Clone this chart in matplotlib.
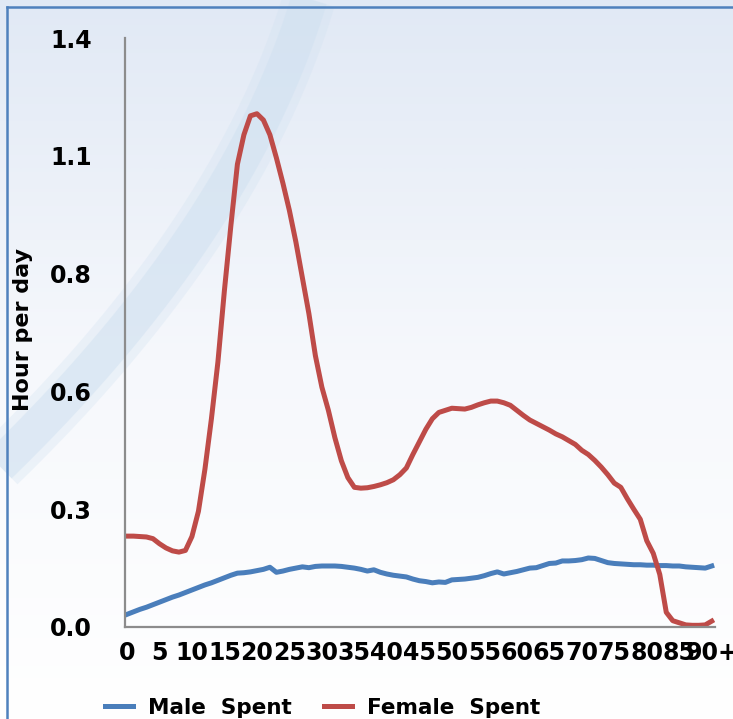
import numpy as np
import matplotlib
matplotlib.use("Agg")
import matplotlib.pyplot as plt
from matplotlib.colors import LinearSegmentedColormap

# ---------------- data ----------------
ages = list(range(0, 91))
tick_ages = list(range(0, 91, 5))
tick_labels = [str(a) for a in range(0, 90, 5)] + ["90+"]

male_spent = [
    0.030, 0.036, 0.042, 0.047, 0.053, 0.059, 0.065, 0.071, 0.076, 0.082,
    0.088, 0.094, 0.100, 0.105, 0.111, 0.117, 0.123, 0.128, 0.129, 0.131,
    0.134, 0.137, 0.142, 0.130, 0.133, 0.137, 0.140, 0.143, 0.141, 0.144,
    0.145, 0.145, 0.145, 0.144, 0.142, 0.140, 0.137, 0.133, 0.136, 0.130,
    0.126, 0.123, 0.121, 0.119, 0.114, 0.110, 0.108, 0.105, 0.107, 0.106,
    0.112, 0.113, 0.114, 0.116, 0.118, 0.122, 0.127, 0.131, 0.126, 0.129,
    0.132, 0.136, 0.140, 0.141, 0.146, 0.151, 0.152, 0.157, 0.157, 0.158,
    0.160, 0.164, 0.163, 0.158, 0.153, 0.151, 0.150, 0.149, 0.148, 0.148,
    0.147, 0.147, 0.146, 0.146, 0.145, 0.145, 0.143, 0.142, 0.141, 0.140,
    0.145,
]

female_spent = [
    0.216, 0.216, 0.215, 0.214, 0.210, 0.198, 0.188, 0.181, 0.178, 0.182,
    0.215, 0.275, 0.375, 0.495, 0.630, 0.800, 0.955, 1.100, 1.170, 1.215,
    1.220, 1.205, 1.170, 1.115, 1.055, 0.990, 0.915, 0.830, 0.745, 0.645,
    0.570, 0.515, 0.450, 0.395, 0.355, 0.332, 0.330, 0.331, 0.334, 0.338,
    0.343, 0.350, 0.362, 0.378, 0.410, 0.440, 0.470, 0.495, 0.510, 0.515,
    0.520, 0.519, 0.518, 0.522, 0.528, 0.533, 0.537, 0.537, 0.533, 0.527,
    0.515, 0.503, 0.492, 0.484, 0.476, 0.468, 0.459, 0.452, 0.443, 0.434,
    0.420, 0.410, 0.396, 0.380, 0.362, 0.342, 0.332, 0.305, 0.280, 0.256,
    0.205, 0.175, 0.125, 0.035, 0.015, 0.010, 0.005, 0.004, 0.004, 0.005,
    0.014,
]

y_ticks = [0.0, 0.28, 0.56, 0.84, 1.12, 1.4]

# ---------------- figure ----------------
W, H = 733, 719
fig = plt.figure(figsize=(W / 100, H / 100), dpi=100)

# background gradient + decorative swoosh
bg = fig.add_axes([0, 0, 1, 1], zorder=-10)
bg.set_axis_off()
cmap = LinearSegmentedColormap.from_list(
    "bgc", [(0.0, "#e1e9f5"), (0.5, "#f6f8fc"), (1.0, "#ffffff")])
grad = np.linspace(0, 1, 256).reshape(-1, 1)
bg.imshow(grad, aspect="auto", cmap=cmap, extent=[0, W, H, 0])
bg.set_xlim(0, W)
bg.set_ylim(H, 0)
guide_y = [0, 100, 200, 300, 400, 465]
guide_x = [310, 268, 220, 148, 62, 0]
coef = np.polyfit(guide_y, guide_x, 2)
sy = np.linspace(-30, 520, 200)
sx = np.polyval(coef, sy)
bg.plot(sx, sy, color="#d0e1f1", lw=38, alpha=0.3, solid_capstyle="butt")
bg.plot(sx, sy, color="#d0e1f1", lw=26, alpha=0.5, solid_capstyle="butt")
# outer border
bg.plot([7, W + 5], [7, 7], color="#4f81bd", lw=1.8)
bg.plot([7, 7], [7, H + 5], color="#4f81bd", lw=1.8)

# main axes
ax = fig.add_axes([125 / W, (H - 627) / H, (715 - 125) / W, 589 / H])
ax.patch.set_alpha(0)
ax.plot(ages, male_spent, color="#4a7ebb", lw=3.6, solid_joinstyle="round",
        label="Male  Spent")
ax.plot(ages, female_spent, color="#be4b48", lw=3.6, solid_joinstyle="round",
        label="Female  Spent")

ax.set_xlim(-0.3, 90.5)
ax.set_ylim(0, 1.4)
ax.set_yticks(y_ticks)
ax.set_yticklabels([f"{v:.1f}" for v in y_ticks])
ax.set_xticks(tick_ages)
ax.set_xticklabels(tick_labels)

for s in ["top", "right"]:
    ax.spines[s].set_visible(False)
for s in ["left", "bottom"]:
    ax.spines[s].set_color("#8c8c8c")
    ax.spines[s].set_linewidth(1.6)

ax.tick_params(axis="y", length=0, pad=24, labelsize=17)
ax.tick_params(axis="x", length=0, pad=10, labelsize=17)
for lab in ax.get_xticklabels() + ax.get_yticklabels():
    lab.set_fontweight("bold")

fig.text(23 / W, 1 - 330 / H, "Hour per day", rotation=90, ha="center",
         va="center", fontsize=16, fontweight="bold")

leg = fig.legend(loc="center left", bbox_to_anchor=(105 / W, 1 - 708 / H),
                 ncol=2, frameon=False, borderpad=0, borderaxespad=0,
                 handlelength=1.3, handletextpad=0.7, columnspacing=1.5,
                 prop={"size": 15.5, "weight": "bold"})

fig.savefig("out.png", dpi=100)
